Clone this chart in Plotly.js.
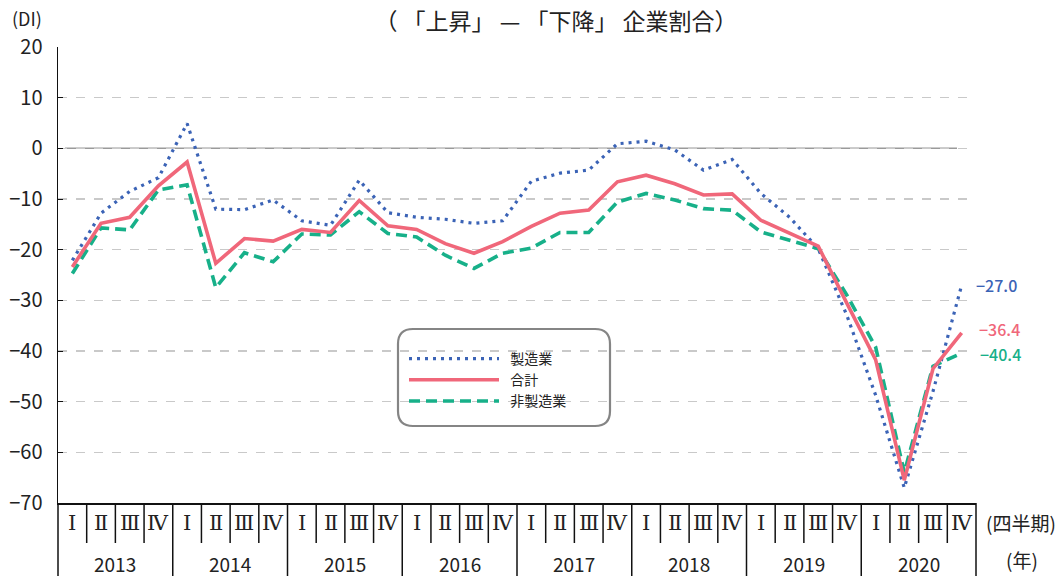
<!DOCTYPE html>
<html>
<head>
<meta charset="utf-8">
<script src="https://cdn.plot.ly/plotly-3.0.1.min.js"></script>
<style>
  html, body { margin: 0; padding: 0; background: #fff; }
  #chart { width: 1064px; height: 576px; }
</style>
</head>
<body>
<div id="chart"></div>
<script>
// ---- data ----
const years = ['2013', '2014', '2015', '2016', '2017', '2018', '2019', '2020'];
const quarterLabels = ['Ⅰ', 'Ⅱ', 'Ⅲ', 'Ⅳ'];
const seriesNames = ['製造業', '合計', '非製造業'];

const manufacturing = [
  -22.1, -12.8, -8.5, -5.8,
  4.9, -12.0, -12.1, -10.2,
  -14.3, -15.2, -6.3, -12.7,
  -13.6, -14.0, -14.8, -14.3,
  -6.5, -4.9, -4.3, 0.9,
  1.4, -0.3, -4.3, -2.2,
  -8.9, -13.6, -19.8, -33.0,
  -48.7, -67.0, -48.0, -27.0
];
const total = [
  -23.4, -14.8, -13.6, -7.4,
  -2.7, -22.7, -17.8, -18.3,
  -16.0, -16.6, -10.3, -15.3,
  -16.0, -18.8, -20.7, -18.4,
  -15.4, -12.8, -12.2, -6.6,
  -5.3, -7.0, -9.2, -9.0,
  -14.2, -16.7, -19.3, -30.6,
  -41.7, -65.5, -43.5, -36.4
];
const nonManufacturing = [
  -24.7, -15.7, -16.1, -8.2,
  -7.2, -27.5, -20.6, -22.4,
  -16.9, -17.1, -12.5, -16.8,
  -17.5, -21.1, -23.7, -20.7,
  -19.7, -16.6, -16.6, -10.6,
  -8.9, -10.2, -11.9, -12.2,
  -16.5, -18.1, -19.8, -29.0,
  -39.2, -64.0, -43.0, -40.4
];

// ---- styles ----
const BLUE = '#3b63b6';
const RED = '#f0677a';
const GREEN = '#17b089';
const JP = '"Noto Sans CJK JP", "Noto Sans", sans-serif';

const n = years.length * quarterLabels.length;
const xs = Array.from({length: n}, (_, i) => i);

// layout geometry (pixels)
const W = 1064, H = 576;
const M = {l: 58, r: 88, t: 47, b: 73};
const PW = W - M.l - M.r, PH = H - M.t - M.b;
const xp = px => (px - M.l) / PW;
const yp = py => (H - M.b - py) / PH;
const pad = s => '\u00a0\u00a0' + s;

const traces = [
  {x: xs, y: nonManufacturing, name: pad(seriesNames[2]), type: 'scatter', mode: 'lines',
   line: {color: GREEN, width: 3.6, dash: '11px,6px'}, legendrank: 3},
  {x: xs, y: manufacturing, name: pad(seriesNames[0]), type: 'scatter', mode: 'lines',
   line: {color: BLUE, width: 3.2, dash: '3px,5px'}, legendrank: 1},
  {x: xs, y: total, name: pad(seriesNames[1]), type: 'scatter', mode: 'lines',
   line: {color: RED, width: 3.6}, legendrank: 2}
];

const shapes = [];
const annotations = [];

// zero line
shapes.push({type: 'line', xref: 'paper', yref: 'y', x0: xp(65), x1: xp(957), y0: 0, y1: 0,
  line: {color: '#9a9a9a', width: 1.5}, layer: 'below'});

// category separators under the x axis
for (let k = 0; k <= n; k++) {
  const full = (k % 4 === 0);
  shapes.push({type: 'line', xref: 'paper', yref: 'paper', x0: k / n, x1: k / n,
    y0: 0, y1: full ? yp(H + 2) : yp(543), line: {color: '#111', width: 1.5}});
}

// quarter labels
for (let i = 0; i < n; i++) {
  annotations.push({xref: 'x', yref: 'paper', x: i, y: yp(523), text: quarterLabels[i % 4],
    showarrow: false, xanchor: 'center', yanchor: 'middle',
    font: {family: '"DejaVu Serif", "Liberation Serif", serif', size: 21, color: '#222'}});
}
// year labels
years.forEach((yr, j) => {
  annotations.push({xref: 'x', yref: 'paper', x: j * 4 + 1.5, y: yp(563), text: yr,
    showarrow: false, xanchor: 'center', yanchor: 'middle',
    font: {family: JP, size: 19, color: '#222'}});
});
// unit labels
annotations.push({xref: 'paper', yref: 'paper', x: xp(1021), y: yp(522), text: '(四半期)',
  showarrow: false, xanchor: 'center', yanchor: 'middle', font: {family: JP, size: 19, color: '#222'}});
annotations.push({xref: 'paper', yref: 'paper', x: xp(1022), y: yp(559), text: '(年)',
  showarrow: false, xanchor: 'center', yanchor: 'middle', font: {family: JP, size: 19, color: '#222'}});
annotations.push({xref: 'paper', yref: 'paper', x: xp(27), y: yp(18), text: '(DI)',
  showarrow: false, xanchor: 'center', yanchor: 'middle', font: {family: JP, size: 18, color: '#222'}});

// end value labels
const fmt = v => (v < 0 ? '−' : '') + Math.abs(v).toFixed(1);
[[manufacturing, BLUE, 0, 0], [total, RED, 3, 3.5], [nonManufacturing, GREEN, 4, -1]].forEach(([arr, c, dx, dy]) => {
  annotations.push({xref: 'x', yref: 'y', x: n - 1, y: arr[n - 1], text: fmt(arr[n - 1]),
    showarrow: false, xanchor: 'left', yanchor: 'middle', xshift: 12 + dx, yshift: dy,
    font: {family: JP, size: 16, color: c, weight: 500}});
});

// rounded legend box
(function () {
  const x0 = xp(398), x1 = xp(610), y0 = yp(426), y1 = yp(329);
  const rx = 15 / PW, ry = 15 / PH;
  const p = `M ${x0 + rx},${y1} L ${x1 - rx},${y1} Q ${x1},${y1} ${x1},${y1 - ry} ` +
            `L ${x1},${y0 + ry} Q ${x1},${y0} ${x1 - rx},${y0} L ${x0 + rx},${y0} ` +
            `Q ${x0},${y0} ${x0},${y0 + ry} L ${x0},${y1 - ry} Q ${x0},${y1} ${x0 + rx},${y1} Z`;
  shapes.push({type: 'path', xref: 'paper', yref: 'paper', path: p,
    line: {color: '#858585', width: 2.2}, fillcolor: 'rgba(255,255,255,1)', layer: 'below'});
})();

const layout = {
  width: W, height: H,
  margin: M,
  paper_bgcolor: '#fff', plot_bgcolor: 'rgba(0,0,0,0)',
  title: {text: '（ 「上昇」 — 「下降」 企業割合）', x: 556 / W, xref: 'container', xanchor: 'center',
          y: 1 - 22 / H, yref: 'container', yanchor: 'middle',
          font: {family: JP, size: 23, color: '#222'}},
  xaxis: {range: [-0.5, n - 0.5], showticklabels: false, ticks: '', showgrid: false, zeroline: false,
          showline: true, linecolor: '#111', linewidth: 1.5, fixedrange: true},
  yaxis: {range: [-70, 20], dtick: 10, tick0: 0, showgrid: true, gridcolor: '#c9c9c9', griddash: 'dash',
          gridwidth: 1.2, zeroline: false, showline: true, linecolor: '#111', linewidth: 1.5,
          ticks: 'inside', ticklen: 5, tickcolor: '#111', ticklabelstandoff: 10,
          tickfont: {family: JP, size: 20, color: '#222'}, fixedrange: true},
  showlegend: true,
  legend: {x: xp(404), y: yp(343), xanchor: 'left', yanchor: 'top', bgcolor: 'rgba(0,0,0,0)',
           borderwidth: 0, itemwidth: 90, tracegroupgap: 0,
           font: {family: JP, size: 14, color: '#222'}, traceorder: 'normal'},
  shapes: shapes,
  annotations: annotations
};

Plotly.newPlot('chart', traces, layout, {displayModeBar: false, staticPlot: true});
</script>
</body>
</html>
